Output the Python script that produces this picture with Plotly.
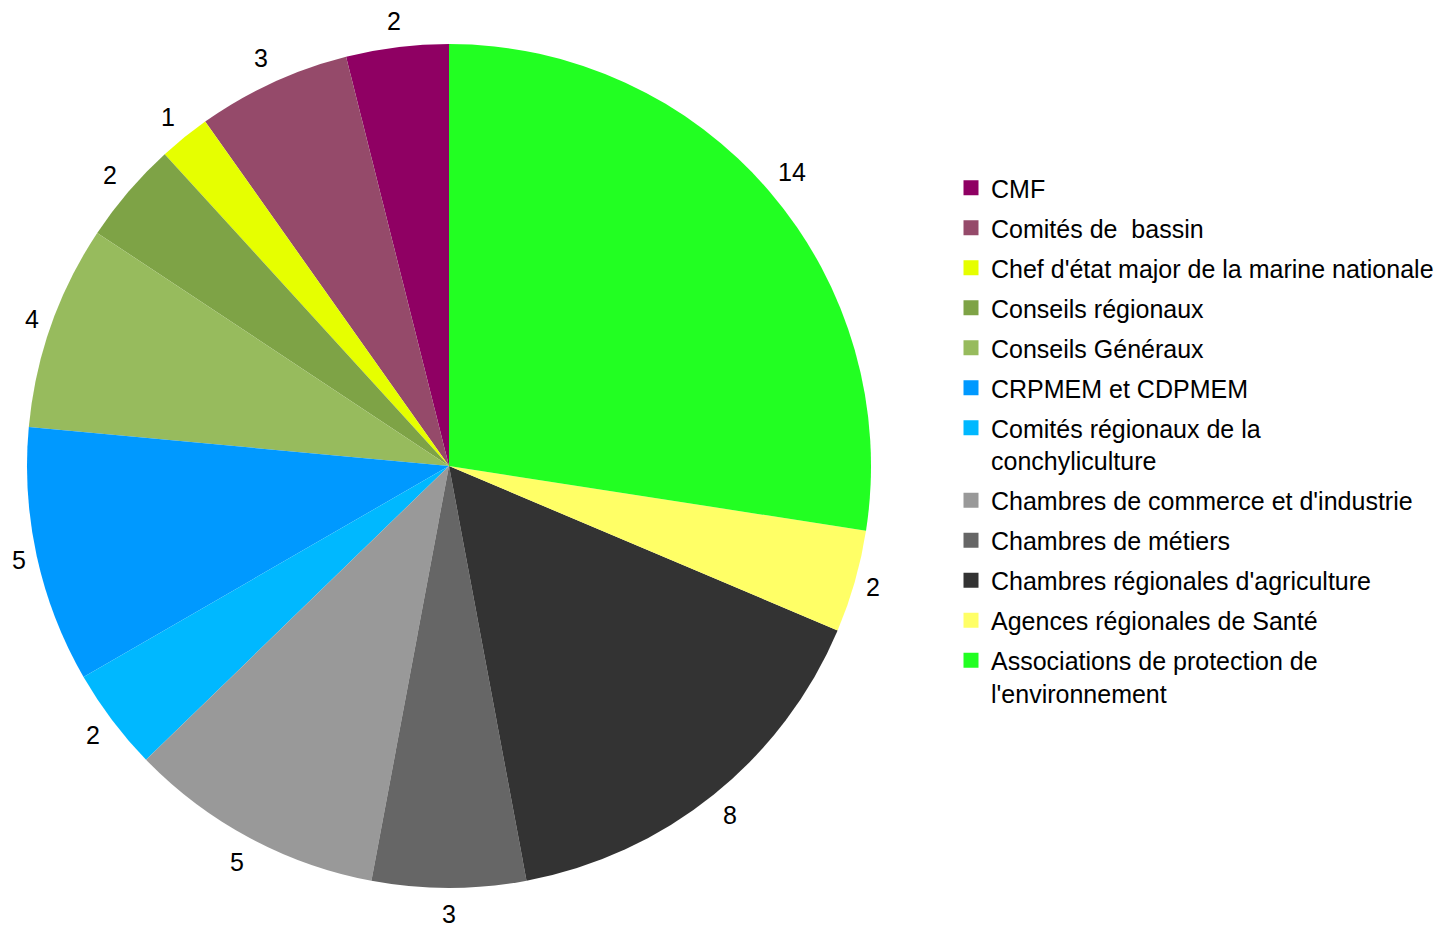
import math
import plotly.graph_objects as go

labels = [
    "CMF",
    "Comités de  bassin",
    "Chef d'état major de la marine nationale",
    "Conseils régionaux",
    "Conseils Généraux",
    "CRPMEM et CDPMEM",
    "Comités régionaux de la<br>conchyliculture",
    "Chambres de commerce et d'industrie",
    "Chambres de métiers",
    "Chambres régionales d'agriculture",
    "Agences régionales de Santé",
    "Associations de protection de<br>l'environnement",
]
values = [2, 3, 1, 2, 4, 5, 2, 5, 3, 8, 2, 14]
colors = [
    "#8F0063", "#954A6A", "#E6FF00", "#7EA346", "#97BB5D", "#0099FF",
    "#00B8FF", "#999999", "#666666", "#333333", "#FFFF66", "#22FF22",
]

W, H = 1449, 928
OFF = 8  # default page body margin
CX, CY, R = 449 - OFF, 466 - OFF, 422
FONT = "Liberation Sans, Arial, sans-serif"
FS = 25

total = sum(values)

fig = go.Figure()
fig.add_trace(go.Pie(
    labels=labels, values=values, sort=False, direction="counterclockwise",
    rotation=-360.0 * values[0] / total,
    marker=dict(colors=colors, line=dict(width=0)),
    textinfo="none", hoverinfo="label+value", showlegend=False,
    domain=dict(x=[(CX - R) / W, (CX + R) / W], y=[1 - (CY + R) / H, 1 - (CY - R) / H]),
))

# value labels outside the pie, positioned from the slice angles
cum = 0
for v in values:
    mid = (cum + v / 2) / total * 2 * math.pi
    cum += v
    s, c = math.sin(mid), math.cos(mid)
    tw = 13.9 * len(str(v))
    r = 429 + abs(s) * tw / 2 + abs(c) * 19
    px = CX - r * s
    py = CY - r * c
    fig.add_annotation(x=px / W, y=1 - py / H, xref="paper", yref="paper",
                       text=str(v), showarrow=False, xanchor="center", yanchor="middle",
                       font=dict(family=FONT, size=FS, color="#000000"))

# legend entries
for i, (lab, col) in enumerate(zip(labels, colors)):
    fig.add_trace(go.Scatter(
        x=[None], y=[None], mode="markers", name=lab, legendgroup="g%d" % i,
        marker=dict(symbol="square", size=15, color=col, line=dict(width=0)),
        showlegend=True, hoverinfo="skip",
    ))

fig.update_layout(
    width=W, height=H, autosize=False,
    margin=dict(l=0, r=0, t=0, b=0),
    paper_bgcolor="white", plot_bgcolor="white",
    xaxis=dict(visible=False), yaxis=dict(visible=False),
    font=dict(family=FONT, size=FS, color="#000000"),
    legend=dict(x=943 / W, y=1 - 157 / H, xanchor="left", yanchor="top",
                font=dict(family=FONT, size=FS, color="#000000"),
                tracegroupgap=4.5, valign="top", itemclick=False,
                bgcolor="rgba(0,0,0,0)"),
)

fig.write_html("out.html")
